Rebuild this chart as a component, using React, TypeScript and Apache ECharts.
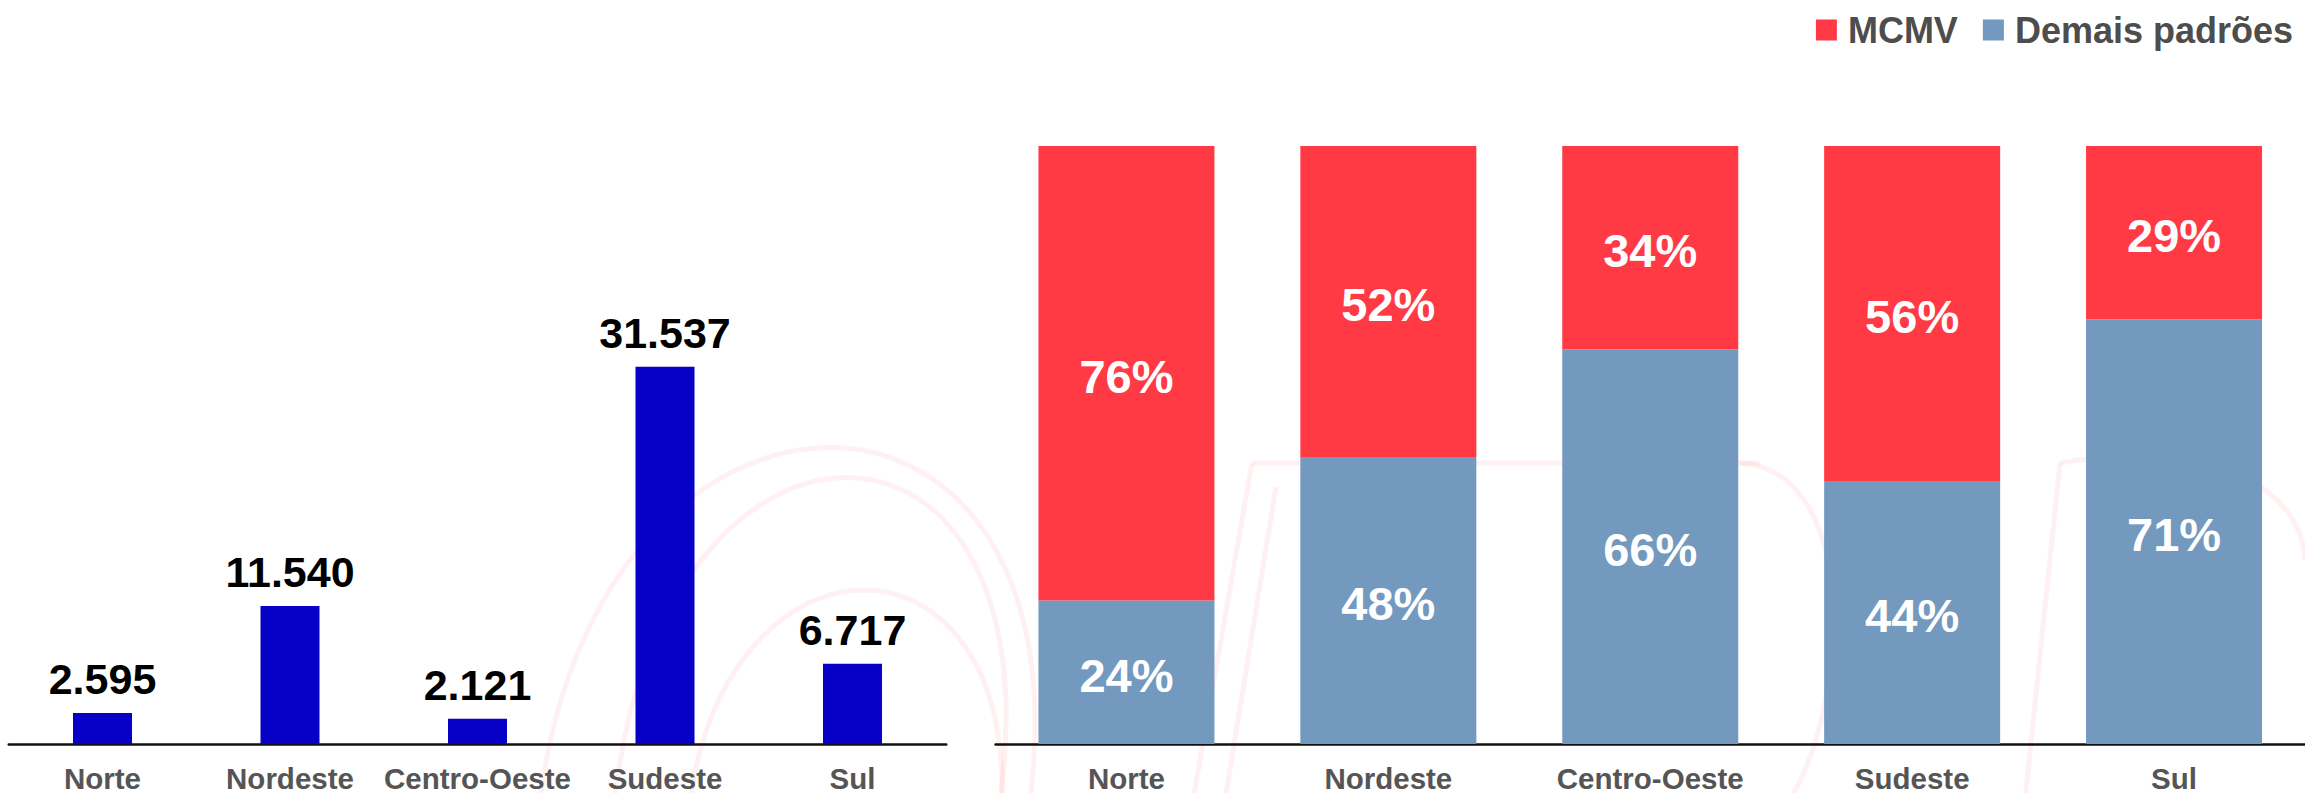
import React, { useEffect, useRef } from "react";
import * as echarts from "echarts";

const regions = ["Norte", "Nordeste", "Centro-Oeste", "Sudeste", "Sul"];
const launches = [2595, 11540, 2121, 31537, 6717];
const mcmvShare = [76, 52, 34, 56, 29];
const otherShare = [24, 48, 66, 44, 71];
const seriesNames = ["MCMV", "Demais padrões"];

const FONT = "'Liberation Sans', Arial, sans-serif";
const RED = "#FF3A44";
const STEEL = "#7399BF";
const NAVY = "#0700C6";
const WM = "rgba(255, 60, 60, 0.07)";

const fmt = (v: number) => String(v).replace(/\B(?=(\d{3})+(?!\d))/g, ".");

export default function App() {
  const ref = useRef<HTMLDivElement>(null);

  useEffect(() => {
    if (!ref.current) return;
    const chart = echarts.init(ref.current, null, { renderer: "svg" });

    const catAxis = (gridIndex: number) => ({
      type: "category" as const,
      gridIndex,
      data: regions,
      axisLine: { show: true, lineStyle: { color: "#111", width: 2.5 } },
      axisTick: { show: false },
      axisLabel: {
        interval: 0,
        color: "#555",
        fontSize: 29.5,
        fontWeight: "bold" as const,
        fontFamily: FONT,
        margin: 19,
      },
    });

    const curve = (x1: number, y1: number, cpx1: number, cpy1: number, cpx2: number, cpy2: number, x2: number, y2: number) => ({
      type: "bezierCurve",
      silent: true,
      z: -10,
      shape: { x1, y1, cpx1, cpy1, cpx2, cpy2, x2, y2 },
      style: { stroke: WM, lineWidth: 5, fill: null },
    });
    const seg = (x1: number, y1: number, x2: number, y2: number) => ({
      type: "line",
      silent: true,
      z: -10,
      shape: { x1, y1, x2, y2 },
      style: { stroke: WM, lineWidth: 5 },
    });

    chart.setOption({
      animation: false,
      backgroundColor: "#fff",
      graphic: [
        curve(540, 800, 600, 330, 1090, 330, 1030, 800),
        curve(615, 800, 660, 370, 1060, 370, 1000, 800),
        curve(690, 800, 730, 520, 1010, 520, 1002, 800),
        seg(1252, 463, 1193, 800),
        seg(1276, 487, 1225, 800),
        seg(1252, 463, 1760, 463),
        curve(1740, 463, 1860, 470, 1850, 700, 1790, 800),
        seg(2060, 463, 2025, 800),
        curve(2060, 463, 2200, 440, 2300, 480, 2305, 560),
      ],
      legend: {
        data: seriesNames,
        right: 7,
        top: 7,
        itemWidth: 21,
        itemHeight: 21,
        itemGap: 25,
        icon: "rect",
        textStyle: {
          color: "#4D4D4D",
          fontSize: 36,
          fontWeight: "bold",
          fontFamily: FONT,
          padding: [0, 0, 0, 6],
        },
      },
      grid: [
        { left: 8.75, right: 1358.75, top: 146, bottom: 49, containLabel: false },
        { left: 995.5, right: -5.5, top: 146, bottom: 49, containLabel: false },
      ],
      xAxis: [catAxis(0), catAxis(1)],
      yAxis: [
        { type: "value", gridIndex: 0, min: 0, max: 50000, show: false },
        { type: "value", gridIndex: 1, min: 0, max: 100, show: false },
      ],
      series: [
        {
          name: "Lançamentos",
          type: "bar",
          xAxisIndex: 0,
          yAxisIndex: 0,
          data: launches,
          barWidth: 59,
          itemStyle: { color: NAVY },
          label: {
            show: true,
            position: "top",
            distance: 12,
            color: "#000",
            fontSize: 43,
            fontWeight: "bold",
            fontFamily: FONT,
            formatter: (p: any) => fmt(p.value),
          },
        },
        {
          name: seriesNames[1],
          type: "bar",
          stack: "share",
          xAxisIndex: 1,
          yAxisIndex: 1,
          data: otherShare,
          barWidth: 176,
          itemStyle: { color: STEEL },
          label: {
            show: true,
            position: "inside",
            offset: [0, 3],
            color: "#fff",
            fontSize: 47,
            fontWeight: "bold",
            fontFamily: FONT,
            formatter: "{c}%",
          },
        },
        {
          name: seriesNames[0],
          type: "bar",
          stack: "share",
          xAxisIndex: 1,
          yAxisIndex: 1,
          data: mcmvShare,
          barWidth: 176,
          itemStyle: { color: RED },
          label: {
            show: true,
            position: "inside",
            offset: [0, 3],
            color: "#fff",
            fontSize: 47,
            fontWeight: "bold",
            fontFamily: FONT,
            formatter: "{c}%",
          },
        },
      ],
    });

    return () => chart.dispose();
  }, []);

  return (
    <div
      ref={ref}
      style={{ position: "fixed", left: 0, top: 0, width: 2305, height: 793 }}
    />
  );
}
